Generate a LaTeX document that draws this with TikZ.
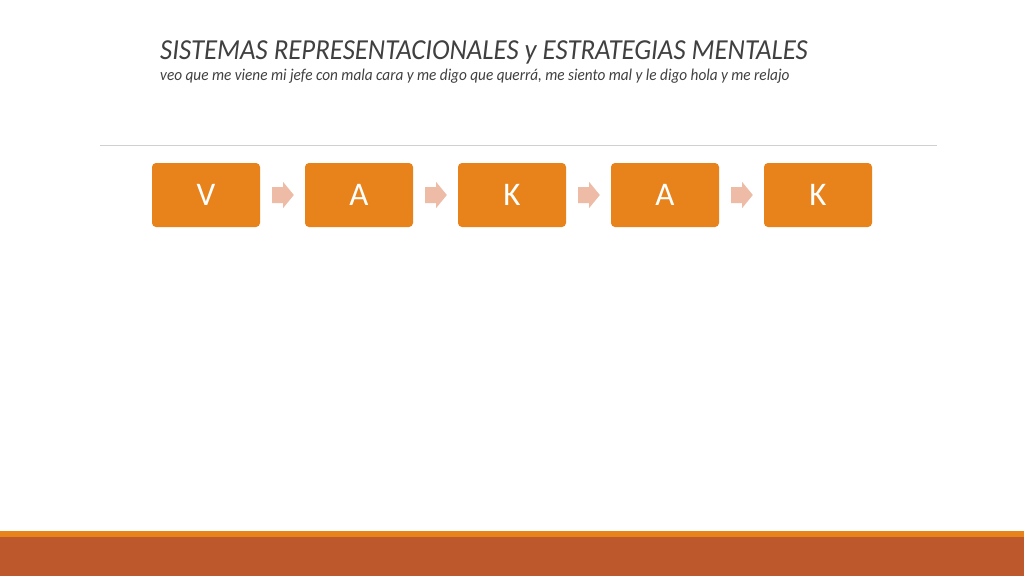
\documentclass[tikz,border=0pt]{standalone}
\usepackage{fontspec}
\setmainfont{Carlito}
\newfontfamily\narrowfont[FakeStretch=0.925]{Carlito}
\usetikzlibrary{calc}
\definecolor{boxorange}{HTML}{E8821A}
\definecolor{arrowpink}{HTML}{EEBCA6}
\definecolor{rust}{HTML}{BC582C}
\definecolor{titlegray}{HTML}{404040}
\definecolor{rulegray}{HTML}{D0D0D0}
\begin{document}
\begin{tikzpicture}[x=1pt,y=-1pt,
  stepbox/.style={fill=boxorange, draw=none, rounded corners=4pt, minimum width=108pt, minimum height=64pt, inner sep=0pt, text=white, font=\fontsize{33}{33}\selectfont},
  flowarrow/.style={fill=arrowpink, draw=none}]
\useasboundingbox (0,0) rectangle (1024,576);
\fill[white] (0,0) rectangle (1024,576);
% title
\node[anchor=base west, inner sep=0pt, text=titlegray, font=\narrowfont\fontsize{29}{29}\selectfont\itshape] (title) at (160,59) {SISTEMAS REPRESENTACIONALES y ESTRATEGIAS MENTALES};
\node[anchor=base west, inner sep=0pt, text=titlegray, font=\narrowfont\fontsize{16.5}{16.5}\selectfont\itshape] (subtitle) at (160,80) {veo que me viene mi jefe con mala cara y me digo que querrá, me siento mal y le digo hola y me relajo};
% rule
\coordinate (rl) at (100,145);
\coordinate (rr) at (937,145);
\draw[rulegray, line width=1pt] (rl) -- (rr);
% boxes
\node[stepbox] (b1) at (206,195) {V};
\node[stepbox] (b2) at (359,195) {A};
\node[stepbox] (b3) at (512,195) {K};
\node[stepbox] (b4) at (665,195) {A};
\node[stepbox] (b5) at (818,195) {K};
% arrows
\foreach \a/\b in {b1/b2,b2/b3,b3/b4,b4/b5}{
  \fill[flowarrow] ($(\a.east)+(12,-8)$) -- ($(\a.east)+(23,-8)$) -- ($(\a.east)+(23,-13)$) -- ($(\b.west)+(-11,0)$) -- ($(\a.east)+(23,13)$) -- ($(\a.east)+(23,8)$) -- ($(\a.east)+(12,8)$) -- cycle;
}
% bottom bands
\fill[boxorange] (0,531) rectangle (1024,537);
\fill[rust] (0,537) rectangle (1024,576);
\end{tikzpicture}
\end{document}
